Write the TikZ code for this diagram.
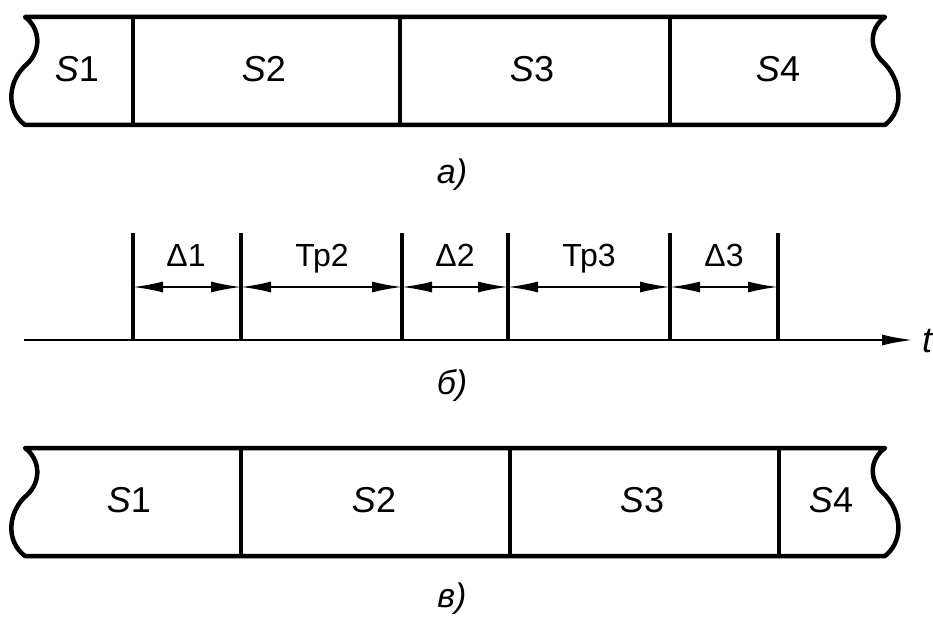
\documentclass[tikz,border=0pt]{standalone}
\usepackage{fontspec}
\setmainfont{Liberation Sans}
\usetikzlibrary{arrows.meta}
\begin{document}
\begin{tikzpicture}[x=1pt,y=-1pt,
  bar/.style={line width=4.5pt,line join=round},
  divider/.style={line width=3.8pt},
  tick/.style={line width=3.8pt},
  axis/.style={line width=2.8pt,-{Latex[length=32pt,width=11pt]}},
  dim/.style={line width=1.8pt,{Latex[length=30pt,width=11pt]}-{Latex[length=30pt,width=11pt]}},
  seglabel/.style={font=\fontsize{36}{40}\selectfont,inner sep=0pt,anchor=base},
  dimlabel/.style={font=\fontsize{32}{36}\selectfont,inner sep=0pt,anchor=base},
  caption/.style={font=\fontsize{34}{38}\selectfont\itshape,inner sep=0pt,anchor=base}]
\useasboundingbox (0,0) rectangle (933,617);

% ---------- a) ----------
\coordinate (aTL) at (25,17);  \coordinate (aBL) at (25,125);
\coordinate (aTR) at (885,17); \coordinate (aBR) at (885,125);
\draw[bar] (aTL) -- (aTR)
  .. controls (870,28) and (868,48) .. (883,62)
  .. controls (900,78) and (906,108) .. (aBR)
  -- (aBL)
  .. controls (5,110) and (8,80) .. (27,64)
  .. controls (42,50) and (40,28) .. (aTL) -- cycle;
\foreach \x/\n in {133/a1,400/a2,670/a3}{
  \coordinate (\n t) at (\x,17); \coordinate (\n b) at (\x,125);
  \draw[divider] (\n t) -- (\n b);}
\node[seglabel] (aS1) at (77,82) {\textit{S}1};
\node[seglabel] (aS2) at (264,82) {\textit{S}2};
\node[seglabel] (aS3) at (532,82) {\textit{S}3};
\node[seglabel] (aS4) at (778,82) {\textit{S}4};
\node[caption] (capa) at (452,184) {а)};

% ---------- б) ----------
\coordinate (ax0) at (24,340);
\coordinate (ax1) at (914,340);
\draw[axis] (ax0) -- (ax1);
\node[font=\fontsize{36}{40}\selectfont\itshape,anchor=base west,inner sep=0pt] (tlab) at (922,352) {t};
\foreach \x/\n in {133/k1,241/k2,402/k3,508/k4,670/k5,778/k6}{
  \coordinate (\n t) at (\x,233); \coordinate (\n b) at (\x,340);
  \coordinate (\n m) at (\x,287);
  \draw[tick] (\n t) -- (\n b);}
\draw[dim] (k1m) -- (k2m);
\draw[dim] (k2m) -- (k3m);
\draw[dim] (k3m) -- (k4m);
\draw[dim] (k4m) -- (k5m);
\draw[dim] (k5m) -- (k6m);
\node[dimlabel] (d1) at (186,267) {Δ1};
\node[dimlabel] (t2) at (322,267) {Тр2};
\node[dimlabel] (d2) at (455,267) {Δ2};
\node[dimlabel] (t3) at (589,267) {Тр3};
\node[dimlabel] (d3) at (724,267) {Δ3};
\node[caption] (capb) at (452,394) {б)};

% ---------- в) ----------
\coordinate (cTL) at (25,448);  \coordinate (cBL) at (25,556);
\coordinate (cTR) at (885,448); \coordinate (cBR) at (885,556);
\draw[bar] (cTL) -- (cTR)
  .. controls (870,459) and (868,479) .. (883,493)
  .. controls (900,509) and (906,539) .. (cBR)
  -- (cBL)
  .. controls (5,541) and (8,511) .. (27,495)
  .. controls (42,481) and (40,459) .. (cTL) -- cycle;
\foreach \x/\n in {241/c1,510/c2,779/c3}{
  \coordinate (\n t) at (\x,448); \coordinate (\n b) at (\x,556);
  \draw[divider] (\n t) -- (\n b);}
\node[seglabel] (cS1) at (129,512) {\textit{S}1};
\node[seglabel] (cS2) at (374,512) {\textit{S}2};
\node[seglabel] (cS3) at (642,512) {\textit{S}3};
\node[seglabel] (cS4) at (831,512) {\textit{S}4};
\node[caption] (capc) at (452,607) {в)};
\end{tikzpicture}
\end{document}
